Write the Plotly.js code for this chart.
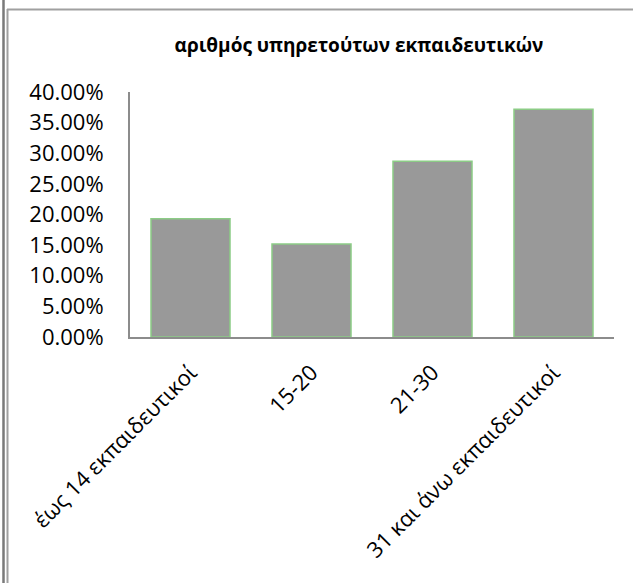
<!DOCTYPE html>
<html>
<head>
<meta charset="utf-8">
<script src="https://cdn.plot.ly/plotly-3.0.1.min.js"></script>
<style>
  html, body { margin: 0; padding: 0; background: #ffffff; }
  #chart { width: 633px; height: 583px; }
</style>
</head>
<body>
<div id="chart"></div>
<script>
// Categories: number of serving teachers per school
const categories = ['έως 14 εκπαιδευτικοί', '15-20', '21-30', '31 και άνω εκπαιδευτικοί'];
// Share of schools in each category
const shares = [0.193, 0.152, 0.287, 0.372];
// Y axis ticks
const yTicks = [0, 0.05, 0.10, 0.15, 0.20, 0.25, 0.30, 0.35, 0.40];

const W = 633, H = 583;
const M = { l: 130, r: 19, t: 92, b: 246 };
const pw = W - M.l - M.r, ph = H - M.t - M.b;
// pixel -> paper coordinates, for the frame lines around the chart
const px = v => (v - M.l) / pw;
const py = v => (H - M.b - v) / ph;

const FONT = 'Open Sans, Noto Sans, DejaVu Sans, sans-serif';

const trace = {
  type: 'bar',
  x: categories,
  y: shares,
  marker: {
    color: '#999999',
    line: { color: '#8ccc86', width: 1.5 }
  },
  hoverinfo: 'skip'
};

const frameLine = (x0, y0, x1, y1, color, width) => ({
  type: 'line', xref: 'paper', yref: 'paper',
  x0: px(x0), y0: py(y0), x1: px(x1), y1: py(y1),
  line: { color: color, width: width }
});

const layout = {
  width: W, height: H,
  margin: M,
  paper_bgcolor: '#ffffff',
  plot_bgcolor: '#ffffff',
  showlegend: false,
  bargap: 0.347,
  title: {
    text: '<b>αριθμός υπηρετούτων εκπαιδευτικών</b>',
    font: { family: FONT, size: 19, color: '#000000' },
    x: 359 / W, xref: 'container', xanchor: 'center',
    y: 1 - 45 / H, yref: 'container', yanchor: 'middle'
  },
  xaxis: {
    type: 'category',
    showline: true, linecolor: '#8c8c8c', linewidth: 2,
    showgrid: false, zeroline: false,
    ticks: '',
    tickangle: -45,
    ticklabelstandoff: 12,
    tickfont: { family: FONT, size: 22, color: '#000000' },
    automargin: false
  },
  yaxis: {
    range: [0, 0.4],
    tickvals: yTicks,
    tickformat: '.2%',
    showline: true, linecolor: '#8c8c8c', linewidth: 2,
    showgrid: false, zeroline: false,
    ticks: '',
    ticklabelstandoff: 20,
    tickfont: { family: FONT, size: 22, color: '#000000' },
    automargin: false
  },
  shapes: [
    frameLine(3.5, 0, 3.5, H, '#7a7a7a', 2.5),
    frameLine(7.5, 9, 7.5, H, '#a0a0a0', 2),
    frameLine(7, 9.5, W, 9.5, '#a0a0a0', 2)
  ]
};

Plotly.newPlot('chart', [trace], layout, { displayModeBar: false, staticPlot: true });
</script>
</body>
</html>
